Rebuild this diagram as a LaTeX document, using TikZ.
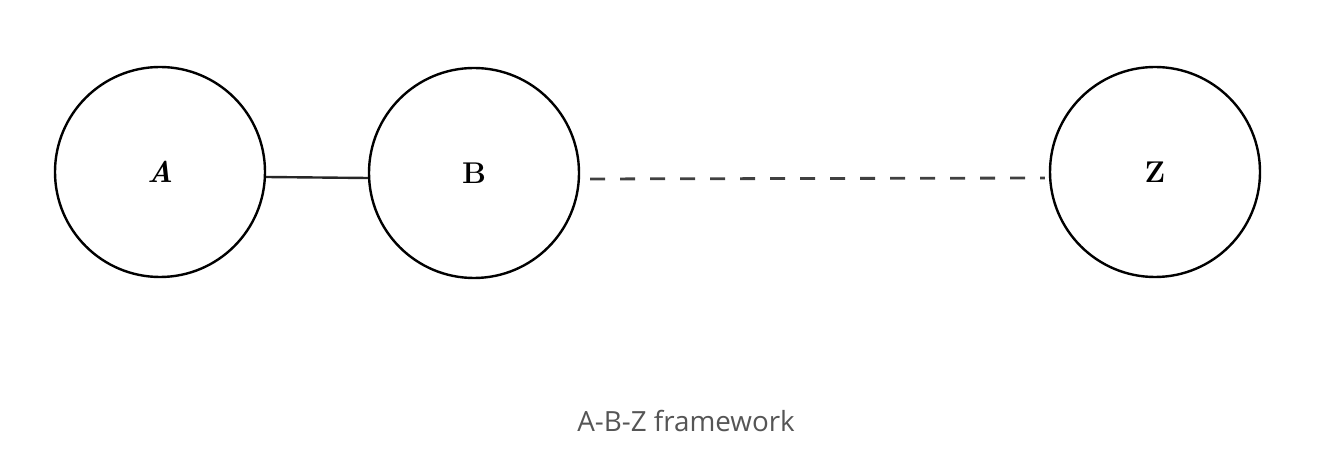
\documentclass[tikz,border=0pt]{standalone}
\usepackage{fontspec}
\newfontfamily\captionfont{Open Sans}
\definecolor{captiongray}{HTML}{555555}

\tikzset{
  frame/.style={circle,draw,line width=1.2pt,minimum size=105pt,inner sep=0pt,font=\fontsize{15}{17}\selectfont\bfseries},
  link/.style={line width=1.2pt,draw=black!85},
  weaklink/.style={line width=1.4pt,draw=black!75,dash pattern=on 7.5pt off 7.5pt,shorten <=5pt,shorten >=2pt}
}

\begin{document}
\begin{tikzpicture}[x=0.5pt,y=-0.5pt]
        % Fix page to the reference size
        \useasboundingbox (0,0) rectangle (1322,464);

        % Draw the three circles
        \node[frame] (A) at (160,172) {\itshape A};
        \node[frame] (B) at (474,173) {B};
        \node[frame] (Z) at (1155,172) {Z};

        % Solid link between A and B
        \draw[link] ([yshift=-2.5pt]A.east) -- ([yshift=-2.5pt]B.west);

        % Dashed link from B to Z
        \draw[weaklink] ([yshift=-3pt]B.east) -- ([yshift=-3pt]Z.west);

        % Caption below
        \node[font=\captionfont\fontsize{13.9}{16}\selectfont,text=captiongray] (caption) at (686,421) {A-B-Z framework};
    \end{tikzpicture}
\end{document}
